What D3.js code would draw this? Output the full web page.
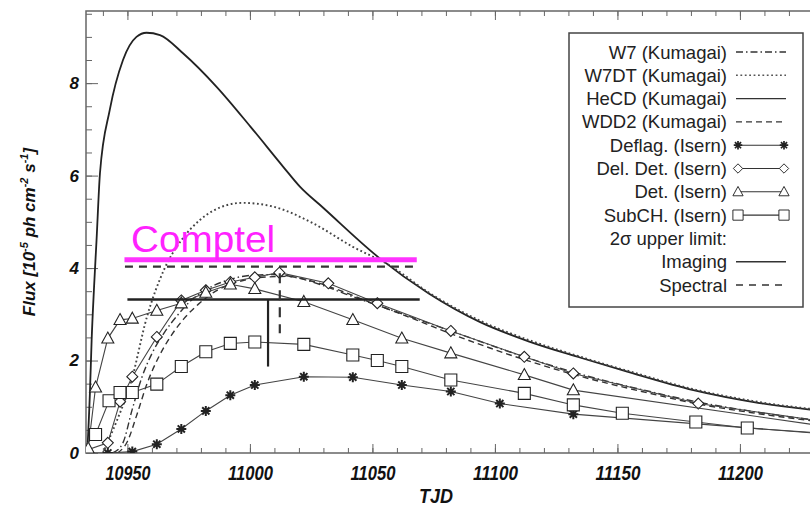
<!DOCTYPE html>
<html>
<head>
<meta charset="utf-8">
<script src="https://cdn.jsdelivr.net/npm/d3@7"></script>
<style>
  body { margin: 0; background: #fff; }
  svg { display: block; }
  text { font-family: "Liberation Sans", Arial, sans-serif; }
  .tick line { stroke: #666; }
  .domain { stroke: none; }
</style>
</head>
<body>
<svg id="chart" width="810" height="508"></svg>
<script>
// ---- data (TJD, flux in 1e-5 ph cm^-2 s^-1) ----
const tjdTicks = [10950, 11000, 11050, 11100, 11150, 11200];
const fluxTicks = [0, 2, 4, 6, 8];

const hecdDay  = [10933.6, 10934.7, 10935.4, 10936.4, 10937.4, 10938.8, 10942.8, 10948.2, 10953.7, 10957.8, 10963.3, 10972.8, 10986.4, 11000.2, 11013.6, 11020.4, 11030, 11053, 11073, 11094, 11114, 11135, 11154, 11181, 11208, 11245];
const hecdFlux = [0, 1.3, 2.44, 3.6, 4.6, 6.05, 7.42, 8.5, 9.0, 9.09, 9.04, 8.64, 7.92, 7.06, 6.19, 5.76, 5.3, 4.21, 3.45, 2.83, 2.41, 2.06, 1.76, 1.36, 1.08, 0.85];

const w7dtDay  = [10940, 10945.7, 10951.3, 10958, 10964.9, 10972, 10979.6, 10990.5, 10997, 11009.4, 11025.7, 11042, 11057, 11073, 11094, 11114, 11135, 11154, 11181, 11208, 11245];
const w7dtFlux = [0, 0.7, 1.5, 2.95, 3.96, 4.6, 5.04, 5.36, 5.41, 5.33, 4.97, 4.46, 4.06, 3.47, 2.86, 2.44, 2.08, 1.78, 1.38, 1.1, 0.87];

const w7Day  = [10944, 10948, 10952, 10956, 10960, 10965, 10970, 10976, 10983, 10991, 11000, 11010, 11020, 11030, 11040, 11060, 11082, 11112, 11132, 11160, 11183, 11205, 11245];
const w7Flux = [0, 0.2, 0.95, 1.65, 2.15, 2.6, 2.95, 3.3, 3.56, 3.74, 3.84, 3.86, 3.78, 3.62, 3.42, 3.05, 2.64, 2.08, 1.75, 1.37, 1.1, 0.9, 0.62];

const wdd2Day  = [10946, 10950, 10954, 10958, 10963, 10968, 10973, 10979, 10986, 10995, 11005, 11015, 11025, 11035, 11047, 11062, 11082, 11112, 11132, 11160, 11183, 11205, 11245];
const wdd2Flux = [0, 0.25, 0.85, 1.5, 2.1, 2.55, 2.9, 3.22, 3.5, 3.7, 3.8, 3.82, 3.72, 3.55, 3.3, 3.0, 2.58, 2.02, 1.7, 1.33, 1.06, 0.87, 0.6];

const deflagDay  = [10930, 10942, 10952, 10962, 10972, 10982, 10992, 11002, 11022, 11042, 11062, 11082, 11102, 11132, 11245];
const deflagFlux = [0, 0, 0.03, 0.19, 0.52, 0.91, 1.25, 1.47, 1.65, 1.64, 1.47, 1.33, 1.07, 0.84, 0.37];

const delDetDay  = [10930, 10942, 10947, 10952, 10962, 10972, 10982, 10992, 11002, 11012, 11032, 11052, 11082, 11112, 11132, 11183, 11245];
const delDetFlux = [0, 0.22, 1.11, 1.65, 2.51, 3.3, 3.52, 3.7, 3.8, 3.9, 3.67, 3.24, 2.64, 2.08, 1.72, 1.07, 0.6];

const detDay  = [10930, 10934, 10937, 10942, 10947, 10952, 10962, 10972, 10982, 10992, 11002, 11022, 11042, 11062, 11082, 11112, 11132, 11245];
const detFlux = [0, 0.1, 1.42, 2.48, 2.88, 2.91, 3.08, 3.24, 3.47, 3.65, 3.55, 3.27, 2.88, 2.48, 2.16, 1.69, 1.36, 0.5];

const subchDay  = [10930, 10937, 10942.5, 10947, 10952, 10962, 10972, 10982, 10992, 11002, 11022, 11042, 11052, 11062, 11082, 11112, 11132, 11152, 11182, 11203, 11245];
const subchFlux = [0, 0.4, 1.13, 1.31, 1.31, 1.49, 1.87, 2.19, 2.37, 2.4, 2.35, 2.12, 2.0, 1.87, 1.58, 1.29, 1.04, 0.86, 0.67, 0.54, 0.39];

// 2 sigma upper limits: [start TJD, end TJD, level], vertical marker [TJD, bottom]
const imagingLimit  = [10950, 11069.3, 3.32];
const imagingDrop   = [11007.4, 1.87];
const spectralLimit = [10949, 11067.5, 4.03];
const spectralDrop  = [11012.2, 3.89, 2.59];
const comptelLine   = [10948.8, 11068.1, 4.18];

const legendLabels = ["W7 (Kumagai)", "W7DT (Kumagai)", "HeCD (Kumagai)", "WDD2 (Kumagai)",
  "Deflag. (Isern)", "Del. Det. (Isern)", "Det. (Isern)", "SubCH. (Isern)",
  "2\u03c3 upper limit:", "Imaging", "Spectral"];

// ---- layout ----
const svg = d3.select("#chart");
const L = 86, R = 810, T = 11, B = 453;
const x = d3.scaleLinear().domain([10933.1, 11228.6]).range([L, R]);
const y = d3.scaleLinear().domain([0, 9.56]).range([B, T]);

svg.append("clipPath").attr("id", "plot")
  .append("rect").attr("x", L).attr("y", T).attr("width", R - L).attr("height", B - T);

// axes (ticks point inward)
const minorX = d3.range(10940, 11230, 10);
const minorY = d3.range(0, 9.6, 0.5);

svg.append("g").attr("transform", `translate(0,${B})`)
  .call(d3.axisBottom(x).tickValues(minorX).tickSize(-5).tickFormat(""));
const xa = svg.append("g").attr("transform", `translate(0,${B})`)
  .call(d3.axisBottom(x).tickValues(tjdTicks).tickSize(-9).tickPadding(13).tickFormat(d3.format("d")));
xa.selectAll("text")
  .attr("font-size", 20).attr("font-weight", "bold").attr("font-style", "italic")
  .attr("fill", "#111").attr("textLength", 45).attr("lengthAdjust", "spacingAndGlyphs");

svg.append("g").attr("transform", `translate(0,${T})`)
  .call(d3.axisTop(x).tickValues(minorX).tickSize(-5).tickFormat(""));
svg.append("g").attr("transform", `translate(0,${T})`)
  .call(d3.axisTop(x).tickValues(tjdTicks).tickSize(-9).tickFormat(""));

svg.append("g").attr("transform", `translate(${L},0)`)
  .call(d3.axisLeft(y).tickValues(minorY).tickSize(-6).tickFormat(""));
const ya = svg.append("g").attr("transform", `translate(${L},0)`)
  .call(d3.axisLeft(y).tickValues(fluxTicks).tickSize(-12).tickPadding(7).tickFormat(d3.format("d")));
ya.selectAll("text")
  .attr("font-size", 17).attr("font-weight", "bold").attr("font-style", "italic").attr("fill", "#111");

svg.append("path")
  .attr("d", `M${R},${T}H${L}V${B}H${R}`)
  .attr("fill", "none").attr("stroke", "#666").attr("stroke-width", 1.5);

// axis titles
svg.append("text").attr("x", 436).attr("y", 503).attr("text-anchor", "middle")
  .attr("font-size", 20).attr("font-weight", "bold").attr("font-style", "italic")
  .attr("textLength", 34).attr("lengthAdjust", "spacingAndGlyphs").attr("fill", "#111").text("TJD");

const yt = svg.append("text").attr("transform", "translate(35,232) rotate(-90)")
  .attr("text-anchor", "middle").attr("font-size", 17).attr("font-weight", "bold")
  .attr("font-style", "italic").attr("fill", "#111");
yt.append("tspan").text("Flux [10");
yt.append("tspan").attr("font-size", 11).attr("dy", -7).text("-5");
yt.append("tspan").attr("dy", 7).text(" ph cm");
yt.append("tspan").attr("font-size", 11).attr("dy", -7).text("-2");
yt.append("tspan").attr("dy", 7).text(" s");
yt.append("tspan").attr("font-size", 11).attr("dy", -7).text("-1");
yt.append("tspan").attr("dy", 7).text("]");

// ---- curves ----
const g = svg.append("g").attr("clip-path", "url(#plot)");
const smooth = d3.line().curve(d3.curveMonotoneX);
const straight = d3.line();
const pts = (days, flux) => days.map((d, i) => [x(d), y(flux[i])]);

const kumagai = [
  { days: hecdDay, flux: hecdFlux, dash: null, w: 1.8, c: "#222" },
  { days: w7dtDay, flux: w7dtFlux, dash: "1.8,2.6", w: 1.9, c: "#444" },
  { days: w7Day, flux: w7Flux, dash: "7,3,1.5,3", w: 1.4, c: "#333" },
  { days: wdd2Day, flux: wdd2Flux, dash: "6,4", w: 1.4, c: "#333" }
];
kumagai.forEach(s => {
  g.append("path").attr("d", smooth(pts(s.days, s.flux)))
    .attr("fill", "none").attr("stroke", s.c).attr("stroke-width", s.w)
    .attr("stroke-dasharray", s.dash);
});

// marker shapes
const shape = {
  star: "M-5,0H5M0,-5V5M-3.6,-3.6L3.6,3.6M-3.6,3.6L3.6,-3.6",
  diamond: "M0,-5.5L5.5,0L0,5.5L-5.5,0Z",
  triangle: "M0,-6.3L6,4.7H-6Z",
  square: "M-6,-6H6V6H-6Z"
};

const isern = [
  { days: deflagDay, flux: deflagFlux, m: "star" },
  { days: delDetDay, flux: delDetFlux, m: "diamond" },
  { days: detDay, flux: detFlux, m: "triangle" },
  { days: subchDay, flux: subchFlux, m: "square" }
];
function marker(sel, m) {
  sel.append("path").attr("d", shape[m])
    .attr("fill", m === "star" ? "none" : "#fff")
    .attr("stroke", "#222").attr("stroke-width", m === "star" ? 2 : 1.1);
}
isern.forEach(s => {
  g.append("path").attr("d", straight(pts(s.days, s.flux)))
    .attr("fill", "none").attr("stroke", "#444").attr("stroke-width", 1.1);
  pts(s.days, s.flux).forEach(p => {
    marker(g.append("g").attr("transform", `translate(${p[0]},${p[1]})`), s.m);
  });
});

// upper limits
svg.append("line")
  .attr("x1", x(imagingLimit[0])).attr("x2", x(imagingLimit[1]))
  .attr("y1", y(imagingLimit[2])).attr("y2", y(imagingLimit[2]))
  .attr("stroke", "#222").attr("stroke-width", 2.6);
svg.append("line")
  .attr("x1", x(imagingDrop[0])).attr("x2", x(imagingDrop[0]))
  .attr("y1", y(imagingLimit[2])).attr("y2", y(imagingDrop[1]))
  .attr("stroke", "#222").attr("stroke-width", 2.2);
svg.append("line")
  .attr("x1", x(spectralLimit[0])).attr("x2", x(spectralLimit[1]))
  .attr("y1", y(spectralLimit[2])).attr("y2", y(spectralLimit[2]))
  .attr("stroke", "#333").attr("stroke-width", 2.2).attr("stroke-dasharray", "8,6");
svg.append("line")
  .attr("x1", x(spectralDrop[0])).attr("x2", x(spectralDrop[0]))
  .attr("y1", y(spectralDrop[1])).attr("y2", y(spectralDrop[2]))
  .attr("stroke", "#333").attr("stroke-width", 2.2).attr("stroke-dasharray", "10,7");

// Comptel annotation
svg.append("line")
  .attr("x1", x(comptelLine[0])).attr("x2", x(comptelLine[1]))
  .attr("y1", y(comptelLine[2])).attr("y2", y(comptelLine[2]))
  .attr("stroke", "#ff33ff").attr("stroke-width", 5);
svg.append("text").attr("x", 131).attr("y", 252)
  .attr("font-family", "'Comic Sans MS', 'DejaVu Sans', sans-serif")
  .attr("font-size", 37).attr("fill", "#ff22ff")
  .attr("textLength", 144).attr("lengthAdjust", "spacingAndGlyphs").text("Comptel");

// ---- legend ----
const lg = svg.append("g");
lg.append("rect").attr("x", 569).attr("y", 33).attr("width", 234).attr("height", 274)
  .attr("fill", "#fff").attr("stroke", "#444").attr("stroke-width", 1.5);
const legendStyle = [
  { dash: "7,3,1.5,3" }, { dash: "1.8,2.6", c: "#555", w: 1.6 }, { dash: null }, { dash: "6,4" },
  { m: "star" }, { m: "diamond" }, { m: "triangle" }, { m: "square" },
  { none: true }, { dash: null, w: 1.6 }, { dash: "7,6", w: 1.6 }
];
legendLabels.forEach((t, i) => {
  const yy = 52 + i * 23.3;
  lg.append("text").attr("x", 727).attr("y", yy + 6.5).attr("text-anchor", "end")
    .attr("font-size", 18.5).attr("fill", "#222").text(t);
  const st = legendStyle[i];
  if (st.none) return;
  if (st.m) {
    lg.append("line").attr("x1", 738).attr("x2", 784).attr("y1", yy).attr("y2", yy)
      .attr("stroke", "#333").attr("stroke-width", 1.1);
    [738, 784].forEach(px => marker(lg.append("g").attr("transform", `translate(${px},${yy}) scale(0.85)`), st.m));
  } else {
    lg.append("line").attr("x1", 736).attr("x2", 786).attr("y1", yy).attr("y2", yy)
      .attr("stroke", st.c || "#333").attr("stroke-width", st.w || 1.3)
      .attr("stroke-dasharray", st.dash);
  }
});
</script>
</body>
</html>
